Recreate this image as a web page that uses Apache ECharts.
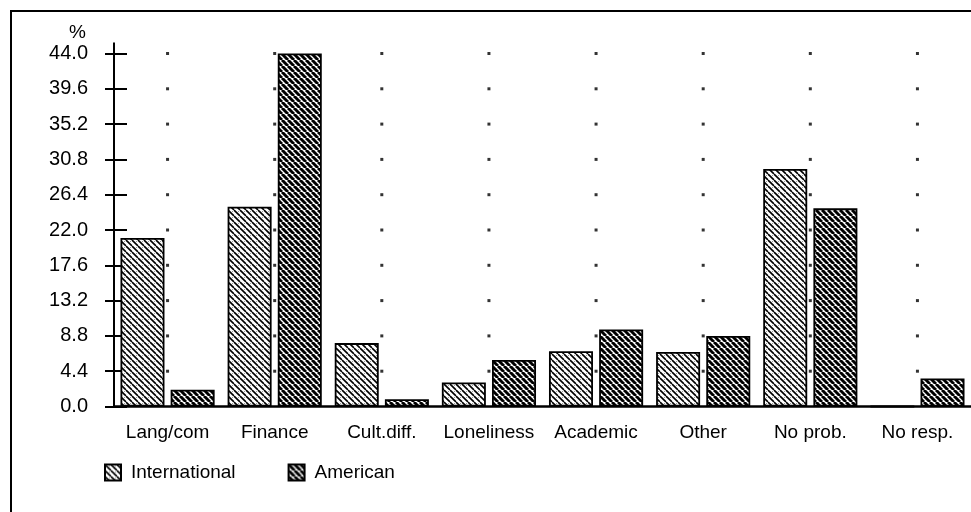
<!DOCTYPE html>
<html>
<head>
<meta charset="utf-8">
<script src="https://cdn.jsdelivr.net/npm/echarts@6/dist/echarts.min.js"></script>
<style>
  html, body { margin: 0; padding: 0; background: #fff; }
  #frame {
    position: absolute; left: 10px; top: 10px; width: 970px; height: 510px;
    border-top: 2px solid #000; border-left: 2px solid #000;
  }
  #chart { position: absolute; left: 0; top: 0; width: 971px; height: 512px; }
</style>
</head>
<body>
<div id="frame"></div>
<div id="chart"></div>
<script>
// problems reported by students (%)
const categories = ["Lang/com", "Finance", "Cult.diff.", "Loneliness", "Academic", "Other", "No prob.", "No resp."];
const international = [21.0, 24.9, 7.9, 3.0, 6.9, 6.8, 29.6, 0];
const american = [2.1, 44.0, 0.9, 5.8, 9.6, 8.8, 24.7, 3.5];
const yTicks = [0, 4.4, 8.8, 13.2, 17.6, 22.0, 26.4, 30.8, 35.2, 39.6, 44.0];

// hatch fill, "\" direction
function hatch(size, lineWidth, stipple) {
  const c = document.createElement("canvas");
  c.width = size;
  c.height = size;
  const ctx = c.getContext("2d");
  ctx.fillStyle = "#fff";
  ctx.fillRect(0, 0, size, size);
  if (stipple) {
    ctx.fillStyle = "#999";
    ctx.fillRect(size - 2, 1, 1, 1);
  }
  ctx.strokeStyle = "#000";
  ctx.lineWidth = lineWidth;
  for (const k of [-size, 0, size]) {
    ctx.beginPath();
    ctx.moveTo(k, 0);
    ctx.lineTo(k + size, size);
    ctx.stroke();
  }
  return { image: c, repeat: "repeat" };
}

// dotted grid: one dot per category centre and y tick
const gridDots = [];
categories.forEach((cat) => {
  yTicks.slice(1).forEach((v) => gridDots.push([cat, v]));
});

const font = "Liberation Sans, Arial, Helvetica, sans-serif";
const chart = echarts.init(document.getElementById("chart"));

const option = {
  animation: false,
  backgroundColor: "transparent",
  textStyle: { fontFamily: font, color: "#000" },
  title: {
    text: "%",
    left: 64,
    top: 18,
    textStyle: { fontFamily: font, fontSize: 19, fontWeight: "normal", color: "#000" },
  },
  legend: {
    data: ["International", "American"],
    left: 99,
    top: 458,
    itemWidth: 16,
    itemHeight: 16,
    itemGap: 52,
    icon: "rect",
    textStyle: { fontFamily: font, fontSize: 19, color: "#000", padding: [0, 0, 0, 5] },
  },
  grid: { left: 114, right: 0, top: 53.5, bottom: 105.5 },
  xAxis: {
    type: "category",
    data: categories,
    axisLine: { lineStyle: { color: "#000", width: 2.5 } },
    axisTick: { alignWithLabel: true, length: 12, lineStyle: { color: "#000", width: 1.5 } },
    axisLabel: { interval: 0, fontFamily: font, fontSize: 19, color: "#000", margin: 17 },
    splitLine: { show: false },
  },
  yAxis: [
    {
      type: "value",
      position: "left",
      min: 0,
      max: 44,
      interval: 4.4,
      axisLine: {
        show: true,
        lineStyle: { color: "#000", width: 2 },
        symbol: ["none", "rect"],
        symbolSize: [2, 22],
      },
      axisTick: { show: true, length: 9, lineStyle: { color: "#000", width: 2 } },
      axisLabel: {
        fontFamily: font,
        fontSize: 20,
        color: "#000",
        margin: 26,
        padding: [5, 0, 0, 0],
        formatter: (v) => v.toFixed(1),
      },
      splitLine: { show: false },
    },
    {
      type: "value",
      position: "left",
      min: 0,
      max: 44,
      interval: 4.4,
      axisLine: { show: false },
      axisTick: { show: true, inside: true, length: 13, lineStyle: { color: "#000", width: 2 } },
      axisLabel: { show: false },
      splitLine: { show: false },
    },
  ],
  series: [
    {
      name: "dots",
      type: "scatter",
      data: gridDots,
      symbol: "rect",
      symbolSize: 3,
      itemStyle: { color: "#000" },
      silent: true,
      z: 1,
    },
    {
      name: "International",
      type: "bar",
      data: international,
      barWidth: 44,
      barGap: "14%",
      itemStyle: { color: hatch(6, 1.6, true), borderColor: "#000", borderWidth: 1.8 },
      z: 2,
    },
    {
      name: "American",
      type: "bar",
      data: american,
      barWidth: 44,
      barGap: "14%",
      itemStyle: { color: hatch(6, 3, false), borderColor: "#000", borderWidth: 1.8 },
      z: 2,
    },
  ],
};

chart.setOption(option);
</script>
</body>
</html>
